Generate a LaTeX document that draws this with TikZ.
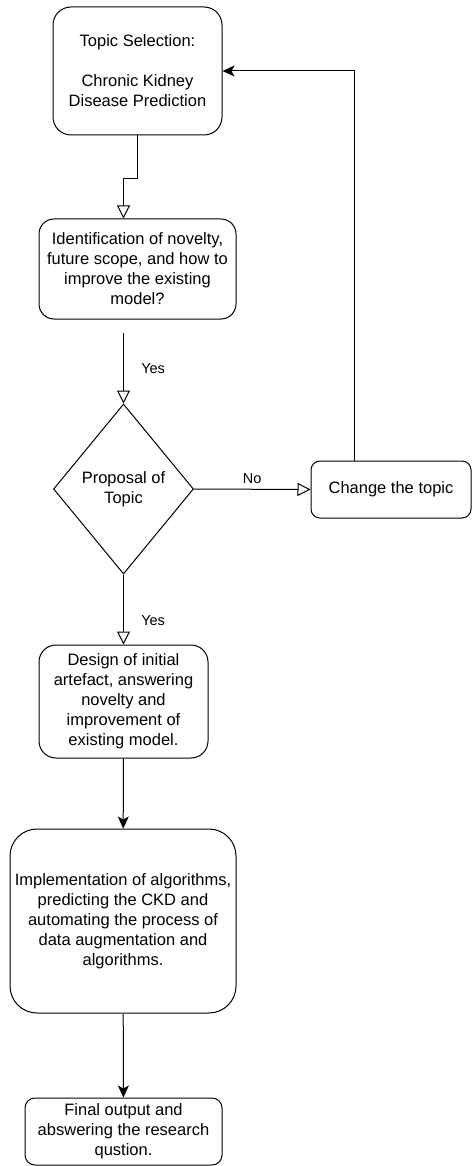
\documentclass[tikz,border=0pt]{standalone}
\usepackage{fontspec}
\setmainfont{Liberation Sans}
\usetikzlibrary{shapes.geometric,arrows.meta,positioning}

\begin{document}
\begin{tikzpicture}[
  x=1pt, y=-1pt,
  block/.style={draw, line width=1pt, align=center, inner sep=0pt, font=\fontsize{16.5}{20}\selectfont},
  decision/.style={draw, diamond, aspect=0.82, line width=1pt, align=center, inner sep=0pt, font=\fontsize{16.5}{20}\selectfont},
  openarrow/.style={-{Triangle[open, length=13pt, width=13pt]}, line width=1pt},
  arrow/.style={-{Stealth[length=12pt, width=11pt, inset=3pt]}, line width=1pt},
  lbl/.style={font=\fontsize{14.5}{17}\selectfont}
]
  \useasboundingbox (0,0) rectangle (472,1166);

  % Main column
  \node[block, rounded corners=18pt, minimum width=169pt, minimum height=128pt] (topic) at (137.5, 71) {Topic Selection:\\[20pt]Chronic Kidney\\Disease Prediction};
  \node[block, rounded corners=15pt, minimum width=197pt, minimum height=100pt] (ident) at (137.5, 269) {Identification of novelty,\\future scope, and how to\\improve the existing\\model?};
  \node[decision, minimum width=140pt, minimum height=170pt] (prop) at (123.5, 489) {Proposal of\\Topic};
  \node[block, rounded corners=17pt, minimum width=169pt, minimum height=113pt] (design) at (123.5, 701.5) {Design of initial\\artefact, answering\\novelty and\\improvement of\\existing model.};
  \node[block, rounded corners=27pt, minimum width=226pt, minimum height=184pt] (impl) at (123, 921) {Implementation of algorithms,\\predicting the CKD and\\automating the process of\\data augmentation and\\algorithms.};
  \node[block, rounded corners=10pt, minimum width=197pt, minimum height=67pt] (final) at (123.5, 1131.5) {Final output and\\abswering the research\\qustion.};

  % Side branch
  \node[block, rounded corners=9pt, minimum width=160pt, minimum height=57pt] (change) at (391, 489.5) {Change the topic};

  \coordinate (identout) at (123.5, 333);

  % Arrows
  \draw[openarrow] (topic.south) -- ++(0,43) -| ([xshift=-14pt]ident.north);
  \draw[openarrow] (identout) -- (prop.north) node[lbl, midway, right=14pt] {Yes};
  \draw[openarrow] (prop.east) -- (change.west) node[lbl, midway, above=2pt] {No};
  \draw[openarrow] (prop.south) -- (design.north) node[lbl, pos=0.66, right=14pt] {Yes};
  \draw[arrow] ([xshift=-37pt]change.north) |- (topic.east);
  \draw[arrow] (design) -- (impl);
  \draw[arrow] (impl) -- (final);
\end{tikzpicture}
\end{document}
